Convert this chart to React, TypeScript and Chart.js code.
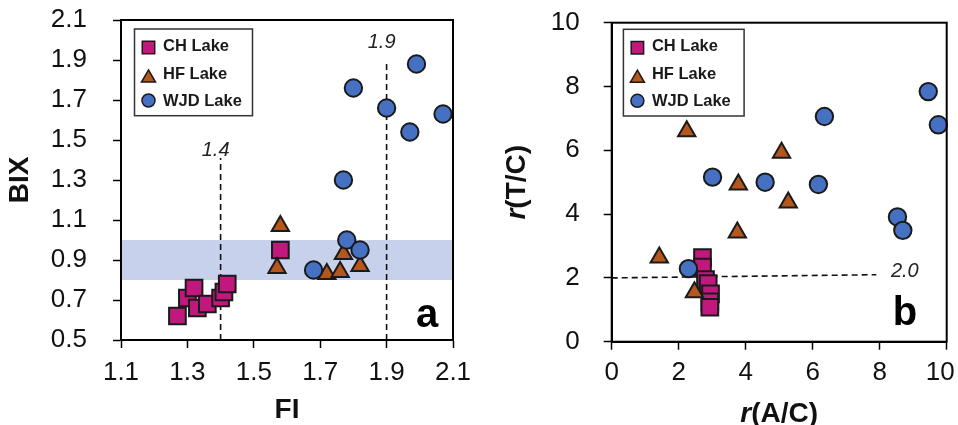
import React, { useEffect, useRef } from 'react';
import { Chart, registerables } from 'chart.js';

Chart.register(...registerables);

const FONT = '"Liberation Sans", Arial, Helvetica, sans-serif';

// ---------- shared ----------
const SERIES = ['CH Lake', 'HF Lake', 'WJD Lake'];
const SERIES_STYLE = ['rect', 'triangle', 'circle'];
const SERIES_FILL = ['#C2187E', '#B5561C', '#4670C2'];

// ---------- panel a : BIX vs FI ----------
const FI_MIN = 1.1, FI_MAX = 2.1, FI_STEP = 0.2;
const BIX_MIN = 0.5, BIX_MAX = 2.1, BIX_STEP = 0.2;
const BIX_BAND = [0.8, 1.0];
const CH_FI = [1.27, 1.30, 1.32, 1.33, 1.36, 1.40, 1.41, 1.42, 1.58];
const CH_BIX = [0.62, 0.71, 0.76, 0.66, 0.68, 0.71, 0.74, 0.78, 0.95];
const HF_FI = [1.58, 1.57, 1.72, 1.76, 1.77, 1.82];
const HF_BIX = [1.07, 0.86, 0.83, 0.84, 0.93, 0.87];
const WJD_FI = [1.99, 1.80, 1.90, 2.07, 1.97, 1.77, 1.78, 1.82, 1.68];
const WJD_BIX = [1.88, 1.76, 1.66, 1.63, 1.54, 1.30, 1.00, 0.95, 0.85];
const FI_REF = [1.4, 1.9];
const FI_REF_TOP = [1.41, 1.885];
const FI_REF_LABELS = ['1.4', '1.9'];
const FI_REF_LABEL_Y = [1.45, 1.99];

// ---------- panel b : r(T/C) vs r(A/C) ----------
const AC_MIN = 0, AC_MAX = 10, AC_STEP = 2;
const TC_MIN = 0, TC_MAX = 10, TC_STEP = 2;
const CH_AC = [2.71, 2.71, 2.80, 2.88, 2.95, 2.93, 2.93];
const CH_TC = [2.64, 2.34, 1.95, 1.82, 1.50, 1.25, 1.08];
const HF_AC = [2.24, 5.07, 3.78, 5.27, 3.75, 1.42, 2.47];
const HF_TC = [6.60, 5.92, 4.93, 4.36, 3.42, 2.64, 1.55];
const WJD_AC = [9.45, 9.75, 6.35, 3.01, 4.58, 6.17, 8.53, 8.69, 2.29];
const WJD_TC = [7.84, 6.80, 7.06, 5.16, 5.00, 4.93, 3.91, 3.49, 2.29];
const TC_REF_X = [0, 7.9];
const TC_REF_Y = [2.0, 2.1];
const TC_REF_LABEL = '2.0';

const zip = (xs: number[], ys: number[]) => xs.map((x, i) => ({ x, y: ys[i] }));

const POINT_R = [11.8, 10, 8.7];

function drawMarker(ctx: CanvasRenderingContext2D, style: string, x: number, y: number, r: number, fill: string) {
  ctx.beginPath();
  if (style === 'rect') {
    const s = r * Math.SQRT1_2;
    ctx.rect(x - s, y - s, 2 * s, 2 * s);
  } else if (style === 'triangle') {
    for (let i = 0; i < 3; i++) {
      const a = (i * 2 * Math.PI) / 3;
      const px = x + Math.sin(a) * r;
      const py = y - Math.cos(a) * r;
      if (i === 0) ctx.moveTo(px, py); else ctx.lineTo(px, py);
    }
    ctx.closePath();
  } else {
    ctx.arc(x, y, r, 0, Math.PI * 2);
  }
  ctx.fillStyle = fill;
  ctx.fill();
  ctx.lineWidth = 1.5;
  ctx.strokeStyle = '#1a1a1a';
  ctx.stroke();
}

function drawRich(ctx: CanvasRenderingContext2D, parts: { text: string; font: string }[], cx: number, cy: number, rot: number) {
  ctx.save();
  ctx.translate(cx, cy);
  ctx.rotate(rot);
  let total = 0;
  const widths = parts.map((p) => { ctx.font = p.font; const w = ctx.measureText(p.text).width; total += w; return w; });
  let x = -total / 2;
  ctx.textAlign = 'left';
  ctx.textBaseline = 'middle';
  ctx.fillStyle = '#111';
  parts.forEach((p, i) => { ctx.font = p.font; ctx.fillText(p.text, x, 0); x += widths[i]; });
  ctx.restore();
}

type Spec = {
  canvasLeft: number; canvasWidth: number;
  padding: { top: number; right: number; bottom: number; left: number };
  yWidth: number; xHeight: number;
  xMin: number; xMax: number; xStep: number; yMin: number; yMax: number; yStep: number;
  decimals: number; xPad: number; yPad: number; lastXPadded: boolean;
  series: { x: number[]; y: number[] }[];
  refLines: { x: number; y: number }[][];
  refLabels: { text: string; x: number; y: number; dx: number }[];
  band?: number[];
  letter: string; letterDx: number; letterDy: number;
  legendDx: number; legendDy: number; legendW: number;
  xTitle: { text: string; font: string }[]; xTitleDy: number;
  yTitle: { text: string; font: string }[]; yTitleX: number;
};

function makeDecor(spec: Spec) {
  return {
    id: 'decor',
    beforeDatasetsDraw(chart: any) {
      if (!spec.band) return;
      const { ctx, chartArea: ca, scales } = chart;
      const y1 = scales.y.getPixelForValue(spec.band[1]);
      const y0 = scales.y.getPixelForValue(spec.band[0]);
      ctx.save();
      ctx.fillStyle = '#C8D1EC';
      ctx.fillRect(ca.left, y1, ca.right - ca.left, y0 - y1);
      ctx.restore();
    },
    afterDraw(chart: any) {
      const { ctx, chartArea: ca, scales } = chart;
      ctx.save();
      // frame
      ctx.strokeStyle = '#000';
      ctx.lineWidth = 2;
      ctx.strokeRect(ca.left, ca.top, ca.right - ca.left, ca.bottom - ca.top);
      // reference labels
      ctx.font = `italic 20px ${FONT}`;
      ctx.fillStyle = '#222';
      ctx.textAlign = 'center';
      ctx.textBaseline = 'middle';
      spec.refLabels.forEach((l) => {
        ctx.fillText(l.text, scales.x.getPixelForValue(l.x) + l.dx, scales.y.getPixelForValue(l.y));
      });
      // panel letter
      ctx.font = `bold 40px ${FONT}`;
      ctx.fillStyle = '#000';
      ctx.textBaseline = 'alphabetic';
      ctx.fillText(spec.letter, ca.right - spec.letterDx, ca.bottom - spec.letterDy);
      // legend
      const bx = ca.left + spec.legendDx;
      const by = ca.top + spec.legendDy;
      ctx.fillStyle = '#fff';
      ctx.fillRect(bx, by, spec.legendW, 86.7);
      ctx.strokeStyle = '#333';
      ctx.lineWidth = 1.5;
      ctx.strokeRect(bx, by, spec.legendW, 86.7);
      const my = [18.5, 49, 71.5];
      const ty = [17, 45.5, 72];
      const mr = [8.8, 8.1, 6.5];
      SERIES.forEach((name, i) => {
        drawMarker(ctx, SERIES_STYLE[i], bx + 14, by + my[i], mr[i], SERIES_FILL[i]);
        ctx.font = `bold 16.5px ${FONT}`;
        ctx.fillStyle = '#1a1a1a';
        ctx.textAlign = 'left';
        ctx.textBaseline = 'middle';
        ctx.fillText(name, bx + 28.5, by + ty[i]);
      });
      ctx.restore();
      // axis titles
      drawRich(ctx, spec.xTitle, (ca.left + ca.right) / 2, ca.bottom + spec.xTitleDy, 0);
      drawRich(ctx, spec.yTitle, spec.yTitleX, (ca.top + ca.bottom) / 2, -Math.PI / 2);
    },
  };
}

function buildChart(canvas: HTMLCanvasElement, spec: Spec) {
  const datasets: any[] = spec.series.map((s, i) => ({
    label: SERIES[i],
    data: zip(s.x, s.y),
    pointStyle: SERIES_STYLE[i],
    pointRadius: POINT_R[i],
    pointHoverRadius: POINT_R[i],
    pointBackgroundColor: SERIES_FILL[i],
    pointBorderColor: '#1a1a1a',
    pointBorderWidth: 2,
    backgroundColor: SERIES_FILL[i],
    borderColor: '#1a1a1a',
    showLine: false,
    order: 3 - i,
    clip: false,
  }));
  spec.refLines.forEach((pts) => {
    datasets.push({
      label: 'ref',
      data: pts,
      showLine: true,
      borderColor: '#111',
      borderWidth: 1.6,
      borderDash: [6, 4],
      pointRadius: 0,
      pointHoverRadius: 0,
      order: 10,
      clip: false,
    });
  });
  const tickFont = { family: FONT, size: 26 };
  const fmt = (v: any) => Number(v).toFixed(spec.decimals);
  const fmtX = (v: any) => {
    const t = Number(v).toFixed(spec.decimals);
    return spec.lastXPadded && Number(v) === spec.xMax ? t + '\u2002' : t;
  };
  return new Chart(canvas, {
    type: 'scatter',
    data: { datasets },
    plugins: [makeDecor(spec)],
    options: {
      animation: false,
      responsive: false,
      events: [],
      layout: { padding: spec.padding },
      plugins: { legend: { display: false }, tooltip: { enabled: false } },
      scales: {
        x: {
          type: 'linear',
          min: spec.xMin, max: spec.xMax,
          afterFit: (s: any) => { s.height = spec.xHeight; s.paddingLeft = 0; s.paddingRight = 0; },
          ticks: { stepSize: spec.xStep, autoSkip: false, maxRotation: 0, font: tickFont, color: '#111', padding: spec.xPad, callback: fmtX },
          grid: { display: true, drawOnChartArea: false, drawTicks: true, tickLength: 8, tickColor: '#000', tickWidth: 1.5, color: '#000' },
          border: { display: true, color: '#000', width: 2 },
        },
        y: {
          type: 'linear',
          min: spec.yMin, max: spec.yMax,
          afterFit: (s: any) => { s.width = spec.yWidth; s.paddingTop = 0; s.paddingBottom = 0; },
          ticks: { stepSize: spec.yStep, autoSkip: false, font: tickFont, color: '#111', padding: spec.yPad, callback: fmt },
          grid: { display: true, drawOnChartArea: false, drawTicks: true, tickLength: 8, tickColor: '#000', tickWidth: 1.5, color: '#000' },
          border: { display: true, color: '#000', width: 2 },
        },
      },
    } as any,
  });
}

const SPEC_A: Spec = {
  canvasLeft: 0, canvasWidth: 479,
  padding: { top: 20, right: 26, bottom: 0, left: 0 },
  yWidth: 121, xHeight: 85,
  xMin: FI_MIN, xMax: FI_MAX, xStep: FI_STEP, yMin: BIX_MIN, yMax: BIX_MAX, yStep: BIX_STEP,
  decimals: 1, xPad: 9, yPad: 26, lastXPadded: false,
  series: [{ x: CH_FI, y: CH_BIX }, { x: HF_FI, y: HF_BIX }, { x: WJD_FI, y: WJD_BIX }],
  refLines: FI_REF.map((x, i) => [{ x, y: BIX_MIN }, { x, y: FI_REF_TOP[i] }]),
  refLabels: FI_REF.map((x, i) => ({ text: FI_REF_LABELS[i], x, y: FI_REF_LABEL_Y[i], dx: -5 })),
  band: BIX_BAND,
  letter: 'a', letterDx: 26, letterDy: 13,
  legendDx: 13.5, legendDy: 9, legendW: 118,
  xTitle: [{ text: 'FI', font: `bold 28px ${FONT}` }], xTitleDy: 70,
  yTitle: [{ text: 'BIX', font: `bold 28px ${FONT}` }], yTitleX: 20,
};

const SPEC_B: Spec = {
  canvasLeft: 479, canvasWidth: 500,
  padding: { top: 22.7, right: 32.3, bottom: 0, left: 0 },
  yWidth: 132.7, xHeight: 83.3,
  xMin: AC_MIN, xMax: AC_MAX, xStep: AC_STEP, yMin: TC_MIN, yMax: TC_MAX, yStep: TC_STEP,
  decimals: 0, xPad: 8, yPad: 24, lastXPadded: true,
  series: [{ x: CH_AC, y: CH_TC }, { x: HF_AC, y: HF_TC }, { x: WJD_AC, y: WJD_TC }],
  refLines: [zip(TC_REF_X, TC_REF_Y)],
  refLabels: [{ text: TC_REF_LABEL, x: 8.75, y: 2.21, dx: 0 }],
  letter: 'b', letterDx: 41.7, letterDy: 16.7,
  legendDx: 11.7, legendDy: 6.6, legendW: 120.7,
  xTitle: [{ text: 'r', font: `italic bold 28px ${FONT}` }, { text: '(A/C)', font: `bold 28px ${FONT}` }], xTitleDy: 73,
  yTitle: [{ text: 'r', font: `italic bold 28px ${FONT}` }, { text: '(T/C)', font: `bold 28px ${FONT}` }], yTitleX: 38,
};

function Panel({ spec }: { spec: Spec }) {
  const ref = useRef<HTMLCanvasElement | null>(null);
  useEffect(() => {
    if (!ref.current) return;
    const chart = buildChart(ref.current, spec);
    return () => chart.destroy();
  }, [spec]);
  return (
    <canvas
      ref={ref}
      width={spec.canvasWidth}
      height={425}
      style={{ position: 'absolute', left: spec.canvasLeft, top: 0, width: spec.canvasWidth, height: 425 }}
    />
  );
}

export default function App() {
  return (
    <div style={{ position: 'absolute', left: 0, top: 0, width: 958, height: 425, overflow: 'hidden', background: '#fff' }}>
      <Panel spec={SPEC_A} />
      <Panel spec={SPEC_B} />
    </div>
  );
}
